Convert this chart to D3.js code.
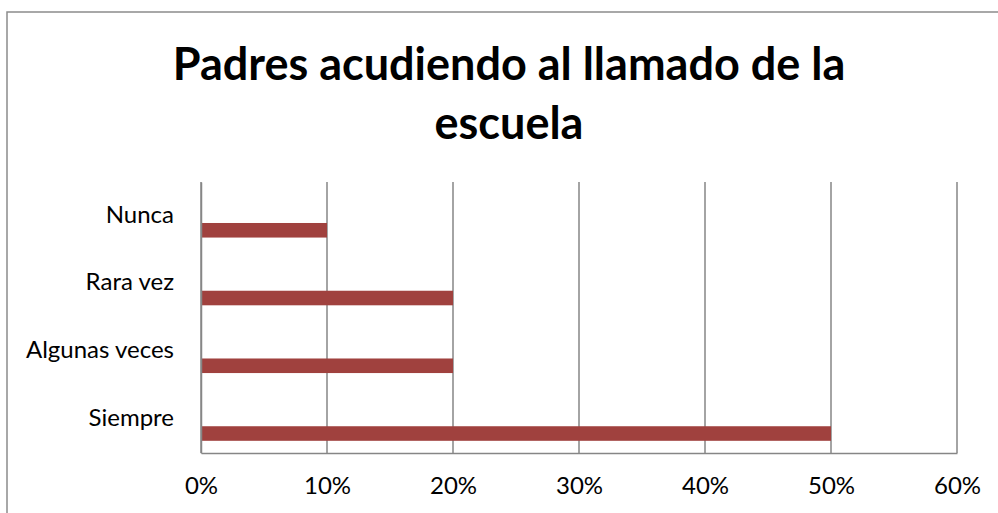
<!DOCTYPE html>
<html>
<head>
<meta charset="utf-8">
<script src="https://cdn.jsdelivr.net/npm/d3@7"></script>
<style>
  body { margin: 0; background: #fff; }
  svg { display: block; }
</style>
</head>
<body>
<div id="chart"></div>
<script>
var svgWidth = 998;
var svgHeight = 513;

// data
var categories = ["Nunca", "Rara vez", "Algunas veces", "Siempre"];
var values = [0.10, 0.20, 0.20, 0.50];
var xTicks = [0, 0.1, 0.2, 0.3, 0.4, 0.5, 0.6];
var titleLines = ["Padres acudiendo al llamado de la", "escuela"];

var margin = { top: 182, right: 41, bottom: 60, left: 201 };
var width = svgWidth - margin.left - margin.right;
var height = 453 - margin.top;

var svg = d3.select("#chart")
    .append("svg")
    .attr("width", svgWidth)
    .attr("height", svgHeight);

// outer frame (runs off the right and bottom edge)
svg.append("rect")
    .attr("x", 7)
    .attr("y", 12)
    .attr("width", 1000)
    .attr("height", 520)
    .attr("fill", "none")
    .attr("stroke", "#8c8c8c")
    .attr("stroke-width", 1.5);

// title
svg.append("text")
    .attr("text-anchor", "middle")
    .style("font-family", "Lato, 'Open Sans', sans-serif")
    .style("font-weight", "bold")
    .style("font-size", "45px")
    .selectAll("tspan")
    .data(titleLines)
    .enter()
    .append("tspan")
    .attr("x", 509)
    .attr("y", (d, i) => 80 + i * 59)
    .text(d => d);

var chartGroup = svg.append("g")
    .attr("transform", `translate(${margin.left}, ${margin.top})`);

var xScale = d3.scaleLinear()
    .domain([0, 0.6])
    .range([0, width]);

var yScale = d3.scaleBand()
    .domain(categories)
    .range([0, height]);

// vertical gridlines
chartGroup.selectAll(".grid")
    .data(xTicks)
    .enter()
    .append("line")
    .attr("class", "grid")
    .attr("x1", d => xScale(d))
    .attr("x2", d => xScale(d))
    .attr("y1", 0)
    .attr("y2", height)
    .attr("stroke", "#868686")
    .attr("stroke-width", 1.5);

// bars sit in the lower part of each band
var bw = yScale.bandwidth();
chartGroup.selectAll(".bar")
    .data(values)
    .enter()
    .append("rect")
    .attr("class", "bar")
    .attr("x", xScale(0))
    .attr("y", (d, i) => yScale(categories[i]) + bw * 0.605)
    .attr("width", d => xScale(d) - xScale(0))
    .attr("height", bw * 0.215)
    .attr("fill", "#a0413e");

// axes
var bottomAxis = d3.axisBottom(xScale)
    .tickValues(xTicks)
    .tickFormat(d3.format(".0%"))
    .tickSize(0)
    .tickPadding(24);

var leftAxis = d3.axisLeft(yScale)
    .tickSize(0)
    .tickPadding(27);

var gx = chartGroup.append("g")
    .attr("transform", `translate(0, ${height})`)
    .call(bottomAxis);

var gy = chartGroup.append("g")
    .call(leftAxis);

[gx, gy].forEach(function (g) {
    g.select(".domain")
        .attr("stroke", "#868686")
        .attr("stroke-width", 1.5);
    g.selectAll("text")
        .style("font-family", "Lato, 'Open Sans', sans-serif")
        .style("font-size", "24px")
        .attr("fill", "#000");
});

// category labels sit a little above the band centre
gy.selectAll(".tick text").attr("dy", "0.28em");
</script>
</body>
</html>
